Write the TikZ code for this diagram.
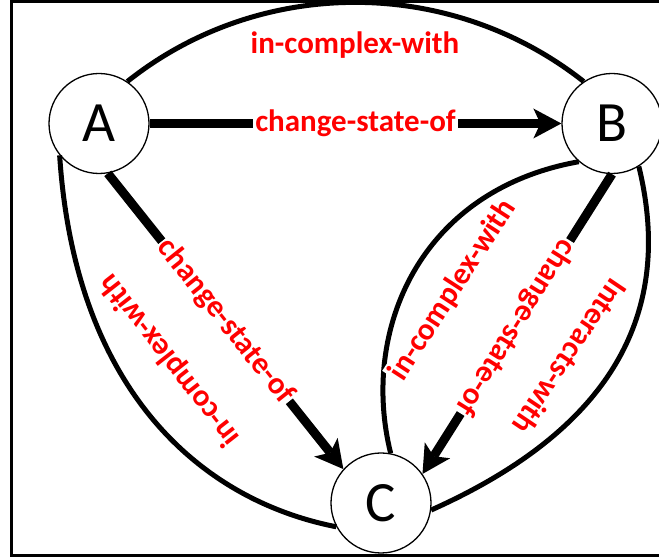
\documentclass[tikz,border=0pt]{standalone}
\usepackage{fontspec}
\setmainfont{Carlito}
\usetikzlibrary{arrows.meta}
\begin{document}
\begin{tikzpicture}[x=0.5pt,y=-0.5pt,
  vertex/.style={circle, draw, line width=0.65pt, fill=white, minimum size=50pt, inner sep=0pt, font=\fontsize{28.5}{30}\selectfont},
  heavy/.style={line width=4.5pt, -{Stealth[length=14pt,width=15pt,inset=3.5pt,line width=0pt]}},
  curve/.style={line width=2.5pt},
  lbl/.style={text=red, font=\bfseries\fontsize{15.5}{17}\selectfont, inner sep=1pt},
  lblw/.style={lbl, fill=white}]
\useasboundingbox (0,0) rectangle (659,560);
\draw[line width=1.5pt] (659,1.5) -- (11.5,1.5) -- (11.5,556) -- (659,556);
\node[vertex] (A) at (99,123.5) {A};
\node[vertex] (B) at (612,123.5) {B};
\node[vertex] (C) at (381,503) {C};
% top arc
\draw[curve] (A.56) .. controls (260,-24) and (450,-24) .. (B.124);
\node[lbl] (t1) at (355,45) {in-complex-with};
% A -> B
\draw[heavy] (A) -- (B) node[lblw, midway] (t2) {change-state-of};
% A -> C
\draw[heavy] (A.-80) -- (C.138) node[lblw, pos=0.5, sloped] (t3) {change-state-of};
% A -- C left
\draw[curve] (A.-141.5) .. controls (75,390) and (200,500) .. (C.208.6);
\node[lbl, rotate=128] (t4) at (170,360) {in-complex-with};
% B -> C
\draw[heavy] (B.-90) -- (C.35) node[lblw, pos=0.51, rotate=-122] (t5) {change-state-of};
% B -- C inner
\draw[curve] (B.229) .. controls (420,190) and (360,330) .. (C.79.4);
\node[lblw, rotate=57] (t6) at (453,290) {in-complex-with};
% B -- C right
\draw[curve] (B.-58.2) .. controls (675,315) and (610,430) .. (C.-8);
\node[lbl, rotate=-124] (t7) at (570,357) {Interacts-with};
\end{tikzpicture}
\end{document}
